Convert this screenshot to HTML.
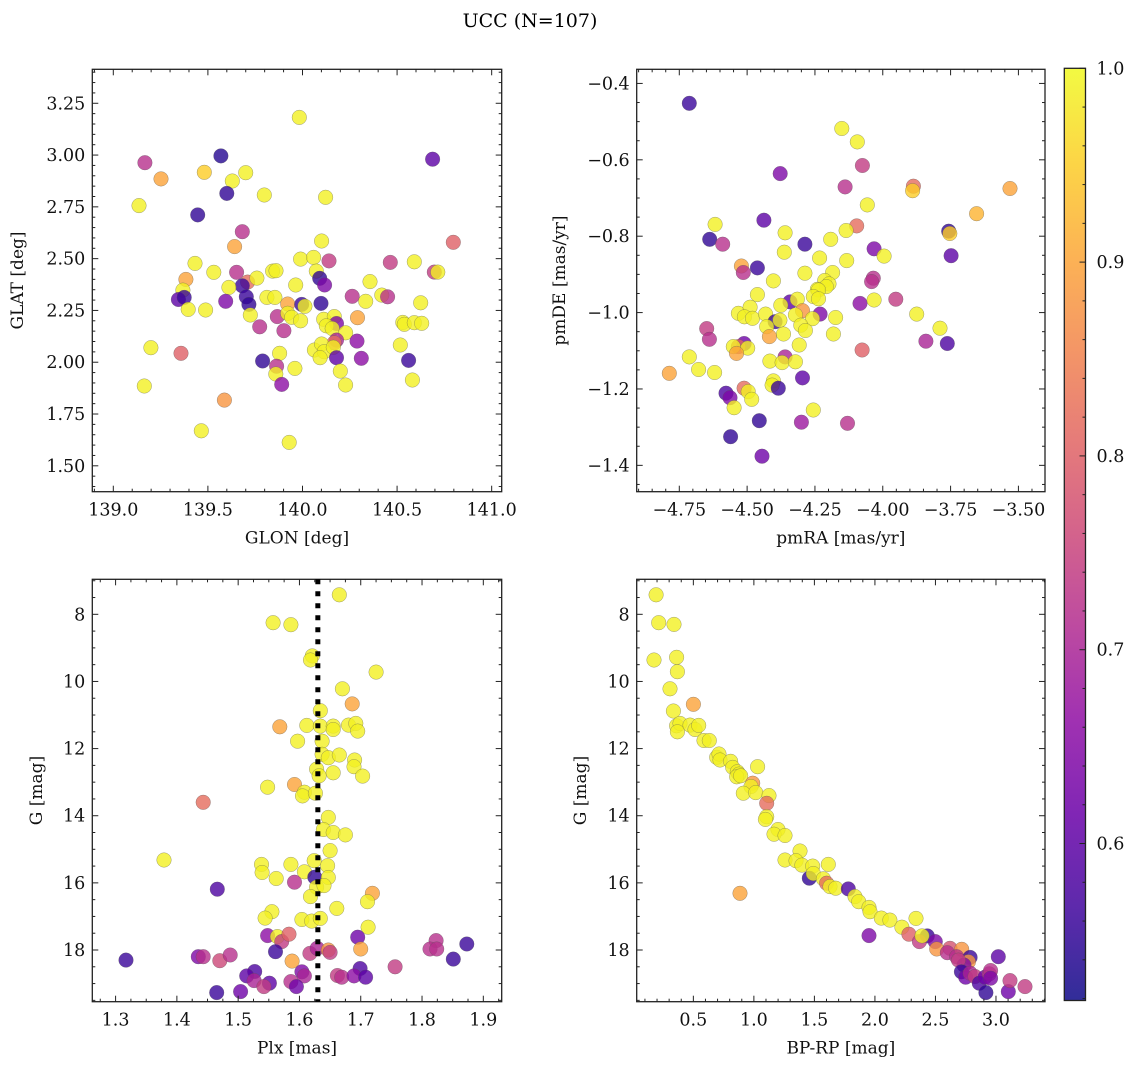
<!DOCTYPE html>
<html><head><meta charset="utf-8"><style>
body{margin:0;background:#fff;}
svg{display:block;font-family:"DejaVu Serif","Liberation Serif",serif;}
</style></head><body>
<svg id="fig" width="1136" height="1068" viewBox="0 0 1136 1068" xmlns="http://www.w3.org/2000/svg">
<text x="530" y="27" font-size="19" text-anchor="middle">UCC (N=107)</text>
</svg>
<script>
// ---- Panel 1: GLON vs GLAT ----
const glon=[139.983,139.167,139.252,139.569,139.481,139.629,139.7,139.6,139.136,139.446,139.798,140.122,140.688,139.682,139.641,140.101,140.797,139.99,140.059,140.14,140.464,140.591,139.432,139.531,139.652,139.842,139.86,140.073,140.697,140.715,139.384,139.71,139.759,139.682,139.964,140.091,140.117,140.357,139.368,139.611,139.344,139.375,139.703,139.717,139.594,139.812,139.854,139.922,139.996,140.013,140.098,140.263,140.334,140.419,140.45,140.625,139.396,139.488,139.724,139.867,139.922,139.943,139.99,140.112,140.168,140.18,140.291,140.126,140.157,140.228,140.18,140.168,140.288,140.53,140.538,140.591,140.63,139.774,139.902,140.517,139.199,139.358,139.879,140.063,140.101,140.115,140.093,140.163,140.18,140.311,139.789,140.561,139.863,139.859,139.96,139.89,140.2,140.228,140.581,139.164,139.587,139.465,139.93];
const glat=[3.182,2.963,2.885,2.996,2.917,2.875,2.915,2.815,2.756,2.711,2.807,2.796,2.98,2.63,2.558,2.585,2.579,2.498,2.506,2.489,2.482,2.485,2.477,2.434,2.434,2.44,2.442,2.44,2.435,2.435,2.4,2.387,2.406,2.369,2.373,2.405,2.373,2.389,2.348,2.361,2.303,2.313,2.316,2.279,2.294,2.313,2.313,2.281,2.279,2.27,2.284,2.318,2.294,2.324,2.316,2.287,2.255,2.252,2.228,2.22,2.236,2.217,2.2,2.207,2.22,2.187,2.215,2.176,2.163,2.142,2.107,2.094,2.102,2.192,2.183,2.191,2.188,2.171,2.152,2.083,2.07,2.043,2.043,2.059,2.088,2.051,2.022,2.072,2.022,2.019,2.006,2.009,1.981,1.943,1.97,1.893,1.957,1.89,1.914,1.885,1.817,1.669,1.613];
const c1=[0.99,0.72,0.9,0.54,0.95,0.99,0.99,0.55,0.99,0.55,0.99,0.99,0.6,0.72,0.9,0.99,0.8,0.99,0.99,0.74,0.74,0.99,0.99,0.99,0.72,0.99,0.99,0.99,0.74,0.99,0.9,0.82,0.99,0.56,0.99,0.55,0.64,0.99,0.99,0.99,0.6,0.56,0.56,0.55,0.64,0.99,0.99,0.9,0.56,0.99,0.55,0.72,0.99,0.99,0.72,0.99,0.99,0.99,0.99,0.72,0.99,0.99,0.99,0.99,0.99,0.64,0.9,0.99,0.99,0.99,0.7,0.82,0.66,0.99,0.99,0.99,0.99,0.72,0.72,0.99,0.99,0.8,0.99,0.99,0.99,0.99,0.99,0.99,0.6,0.66,0.55,0.56,0.72,0.99,0.99,0.66,0.99,0.99,0.99,0.99,0.88,0.99,0.99];
// ---- Panel 2: pmRA vs pmDE ----
const pmra=[-4.713,-4.151,-4.094,-4.075,-4.378,-4.139,-3.887,-3.89,-3.531,-4.057,-3.654,-4.618,-4.438,-4.096,-4.135,-3.757,-3.753,-4.638,-4.59,-4.36,-4.287,-4.192,-4.363,-4.032,-3.995,-3.748,-4.233,-4.133,-4.521,-4.514,-4.462,-4.287,-4.185,-4.403,-4.214,-4.198,-4.208,-4.035,-4.041,-4.241,-4.237,-4.462,-4.256,-4.237,-4.342,-4.315,-4.084,-4.032,-3.952,-4.376,-4.532,-4.489,-4.51,-4.48,-4.432,-4.397,-4.379,-4.428,-4.296,-4.322,-4.231,-4.259,-4.302,-4.285,-4.174,-4.366,-4.182,-3.875,-3.789,-4.649,-4.639,-4.418,-4.511,-4.532,-4.551,-4.498,-4.539,-4.308,-3.841,-3.762,-4.076,-4.713,-4.679,-4.62,-4.787,-4.416,-4.36,-4.371,-4.322,-4.296,-4.403,-4.408,-4.385,-4.578,-4.563,-4.511,-4.496,-4.483,-4.548,-4.256,-4.455,-4.3,-4.13,-4.561,-4.445];
const pmde=[-0.452,-0.518,-0.553,-0.615,-0.636,-0.671,-0.669,-0.681,-0.675,-0.718,-0.741,-0.769,-0.758,-0.773,-0.785,-0.787,-0.793,-0.808,-0.821,-0.791,-0.821,-0.808,-0.842,-0.833,-0.852,-0.851,-0.857,-0.864,-0.878,-0.895,-0.883,-0.897,-0.895,-0.917,-0.916,-0.925,-0.932,-0.91,-0.919,-0.939,-0.941,-0.953,-0.958,-0.964,-0.972,-0.965,-0.976,-0.967,-0.965,-0.981,-1.002,-0.986,-1.011,-1.015,-1.004,-1.024,-1.02,-1.037,-0.995,-1.006,-1.004,-1.016,-1.033,-1.047,-1.013,-1.056,-1.056,-1.004,-1.041,-1.042,-1.07,-1.063,-1.081,-1.089,-1.089,-1.093,-1.107,-1.085,-1.075,-1.081,-1.098,-1.116,-1.149,-1.157,-1.159,-1.127,-1.116,-1.131,-1.129,-1.171,-1.179,-1.19,-1.198,-1.211,-1.223,-1.198,-1.207,-1.227,-1.249,-1.255,-1.283,-1.287,-1.29,-1.325,-1.376];
const c2=[0.56,0.99,0.99,0.74,0.64,0.72,0.82,0.95,0.9,0.99,0.92,0.99,0.6,0.82,0.99,0.55,0.95,0.55,0.72,0.99,0.56,0.99,0.99,0.64,0.99,0.6,0.99,0.99,0.9,0.72,0.56,0.99,0.99,0.99,0.99,0.99,0.99,0.72,0.72,0.99,0.99,0.99,0.99,0.99,0.6,0.99,0.66,0.99,0.74,0.99,0.99,0.99,0.99,0.99,0.99,0.56,0.99,0.99,0.88,0.99,0.64,0.99,0.99,0.99,0.99,0.99,0.99,0.99,0.99,0.74,0.72,0.9,0.62,0.8,0.99,0.99,0.9,0.99,0.7,0.58,0.8,0.99,0.99,0.99,0.9,0.99,0.7,0.99,0.99,0.6,0.99,0.99,0.56,0.58,0.64,0.82,0.99,0.99,0.99,0.99,0.55,0.68,0.72,0.55,0.62];
// ---- Panel 3: Plx vs G ----
const plx=[1.665,1.557,1.586,1.621,1.618,1.725,1.67,1.686,1.634,1.568,1.612,1.634,1.655,1.655,1.68,1.692,1.695,1.597,1.637,1.637,1.647,1.665,1.69,1.689,1.628,1.632,1.655,1.703,1.548,1.592,1.608,1.605,1.626,1.443,1.647,1.639,1.655,1.675,1.65,1.379,1.538,1.586,1.624,1.646,1.539,1.608,1.562,1.625,1.647,1.592,1.466,1.628,1.64,1.719,1.618,1.711,1.555,1.661,1.544,1.604,1.62,1.634,1.712,1.548,1.564,1.571,1.583,1.695,1.823,1.813,1.824,1.873,1.561,1.617,1.629,1.647,1.65,1.7,1.317,1.435,1.443,1.47,1.487,1.588,1.851,1.756,1.527,1.514,1.526,1.551,1.542,1.604,1.608,1.586,1.595,1.699,1.662,1.669,1.689,1.708,1.465,1.504];
const g3=[7.42,8.25,8.31,9.24,9.36,9.72,10.22,10.67,10.87,11.35,11.31,11.33,11.33,11.43,11.3,11.25,11.48,11.78,11.78,12.17,12.27,12.19,12.34,12.54,12.61,12.81,12.72,12.82,13.15,13.07,13.3,13.41,13.33,13.6,14.05,14.41,14.5,14.57,15.04,15.32,15.45,15.45,15.34,15.49,15.69,15.67,15.87,15.83,15.84,15.98,16.19,16.13,16.08,16.31,16.41,16.56,16.86,16.76,17.05,17.09,17.14,17.06,17.32,17.57,17.6,17.75,17.53,17.62,17.72,17.97,17.97,17.82,18.05,18.1,17.95,18.0,18.07,17.97,18.3,18.2,18.2,18.32,18.15,18.33,18.27,18.5,18.64,18.77,18.91,18.99,19.09,18.65,18.77,18.94,19.09,18.55,18.76,18.81,18.77,18.81,19.27,19.24];
const c3=[0.99,0.99,0.99,0.99,0.99,0.99,0.99,0.9,0.99,0.9,0.99,0.99,0.99,0.99,0.99,0.99,0.99,0.99,0.99,0.99,0.99,0.99,0.99,0.99,0.99,0.99,0.99,0.99,0.99,0.9,0.99,0.99,0.99,0.82,0.99,0.99,0.99,0.99,0.99,0.99,0.99,0.99,0.99,0.99,0.99,0.99,0.99,0.55,0.99,0.72,0.58,0.99,0.99,0.9,0.99,0.99,0.99,0.99,0.99,0.99,0.99,0.99,0.99,0.66,0.99,0.74,0.8,0.62,0.72,0.72,0.72,0.56,0.56,0.74,0.7,0.88,0.74,0.9,0.56,0.64,0.72,0.76,0.72,0.9,0.56,0.74,0.58,0.6,0.7,0.6,0.74,0.64,0.7,0.72,0.62,0.58,0.74,0.72,0.66,0.6,0.56,0.62];
// ---- Panel 4: BP-RP vs G ----
const bprp=[0.192,0.214,0.34,0.175,0.362,0.368,0.307,0.5,0.335,0.362,0.39,0.368,0.472,0.514,0.544,0.588,0.632,0.693,0.712,0.72,0.808,0.825,0.863,0.877,0.858,0.891,1.031,0.99,0.976,0.913,1.015,1.125,1.106,1.106,1.095,1.199,1.166,1.257,1.381,1.257,1.348,1.397,1.615,1.486,1.458,1.491,1.574,1.601,1.629,1.676,1.78,1.835,1.866,0.885,1.951,1.959,2.053,2.124,2.339,2.223,1.951,2.281,2.433,2.367,2.389,2.499,2.51,2.62,2.598,2.717,2.675,2.786,2.772,2.736,2.69,3.019,2.714,2.75,2.786,2.827,2.862,2.909,2.945,2.956,2.917,3.102,3.116,3.24,2.956];
const g4=[7.42,8.25,8.3,9.36,9.28,9.71,10.22,10.68,10.88,11.32,11.25,11.5,11.3,11.43,11.31,11.76,11.76,12.26,12.16,12.34,12.38,12.56,12.69,12.76,12.84,12.81,12.54,13.03,13.13,13.33,13.31,13.4,13.63,14.03,14.11,14.41,14.55,14.59,15.05,15.32,15.34,15.47,15.45,15.5,15.86,15.72,15.88,16.01,16.11,16.16,16.18,16.41,16.56,16.31,16.73,16.86,17.05,17.11,17.06,17.32,17.57,17.53,17.58,17.75,17.58,17.75,17.97,17.95,18.08,17.98,18.2,18.22,18.35,18.45,18.3,18.2,18.65,18.81,18.69,18.79,18.99,18.81,18.71,18.61,19.27,19.24,18.91,19.09,18.84];
const c4=[0.99,0.99,0.99,0.99,0.99,0.99,0.99,0.9,0.99,0.99,0.99,0.99,0.99,0.99,0.99,0.99,0.99,0.99,0.99,0.99,0.99,0.99,0.99,0.99,0.99,0.99,0.99,0.88,0.99,0.99,0.99,0.99,0.82,0.99,0.99,0.99,0.99,0.99,0.99,0.99,0.99,0.99,0.99,0.99,0.55,0.99,0.99,0.82,0.99,0.99,0.58,0.99,0.99,0.9,0.99,0.99,0.99,0.99,0.99,0.99,0.64,0.8,0.56,0.74,0.99,0.64,0.88,0.78,0.72,0.88,0.72,0.56,0.88,0.64,0.74,0.6,0.56,0.62,0.7,0.74,0.58,0.62,0.72,0.72,0.55,0.62,0.74,0.74,0.64];
const cbTicks=[0.6,0.7,0.8,0.9,1.0];
const plxLine=1.63;

const NS='http://www.w3.org/2000/svg';
const svg=document.getElementById('fig');
function mk(tag,attrs,parent){const e=document.createElementNS(NS,tag);for(const k in attrs)e.setAttribute(k,attrs[k]);(parent||svg).appendChild(e);return e;}
const VMIN=0.519,VMAX=1.0;
const plasma=[[13,8,135],[65,4,157],[106,0,168],[143,13,164],[177,42,144],[204,71,120],[225,100,98],[242,132,75],[252,166,54],[252,206,37],[240,249,33]];
function cmap(v){let t=(v-VMIN)/(VMAX-VMIN);t=Math.max(0,Math.min(1,t))*10;const i=Math.min(9,Math.floor(t)),f=t-i;const a=plasma[i],b=plasma[i+1];return 'rgb('+a.map((x,k)=>Math.round(x+(b[k]-x)*f)).join(',')+')';}
function fmt(v,d){let s=v.toFixed(d);if(v<0)s='\u2212'+s.slice(1);return s;}
const TF=17.5;

function panel(o){
  const g=mk('g',{});
  
  
  const X=v=>o.L+(v-o.x0)/(o.x1-o.x0)*(o.R-o.L);
  const Y=o.inv?(v=>o.T+(v-o.y0)/(o.y1-o.y0)*(o.B-o.T)):(v=>o.B-(v-o.y0)/(o.y1-o.y0)*(o.B-o.T));
  const pts=mk('g',{},g);
  
  
  for(let i=0;i<o.xs.length;i++){
    const c=mk('circle',{cx:X(o.xs[i]).toFixed(1),cy:Y(o.ys[i]).toFixed(1),r:7.3,fill:cmap(o.cs[i]),'fill-opacity':0.8,stroke:'#555','stroke-width':0.4,'stroke-opacity':0.7},pts);
    
    
  }
  if(o.vline!==undefined){
    const l=mk('line',{x1:X(o.vline),x2:X(o.vline),y1:o.T,y2:o.B,stroke:'#000','stroke-width':5,'stroke-dasharray':'5 7'},g);
    
    
  }
  const fr=mk('rect',{x:o.L,y:o.T,width:o.R-o.L,height:o.B-o.T,fill:'none',stroke:'#222','stroke-width':1.3},g);
  
  
  const tk=mk('g',{stroke:'#222','stroke-width':1},g);
  const lo=Math.min(o.x0,o.x1),hi=Math.max(o.x0,o.x1);
  for(let v=Math.ceil(lo/o.xmin-1e-6)*o.xmin;v<=hi+1e-9;v+=o.xmin){
    const maj=Math.abs(v/o.xmaj-Math.round(v/o.xmaj))<1e-4;const len=maj?6:3;const x=X(v);
    mk('line',{x1:x,x2:x,y1:o.B,y2:o.B-len},tk);mk('line',{x1:x,x2:x,y1:o.T,y2:o.T+len},tk);
    if(maj){const t=mk('text',{x:x,y:o.B+24,'font-size':TF,'text-anchor':'middle',stroke:'none',fill:'#111'},g);t.textContent=fmt(v,o.xd);
      }
  }
  const ylo=Math.min(o.y0,o.y1),yhi=Math.max(o.y0,o.y1);
  for(let v=Math.ceil(ylo/o.ymin-1e-6)*o.ymin;v<=yhi+1e-9;v+=o.ymin){
    const maj=Math.abs(v/o.ymaj-Math.round(v/o.ymaj))<1e-4;const len=maj?6:3;const y=Y(v);
    mk('line',{x1:o.L,x2:o.L+len,y1:y,y2:y},tk);mk('line',{x1:o.R,x2:o.R-len,y1:y,y2:y},tk);
    if(maj){const t=mk('text',{x:o.L-7,y:y+6,'font-size':TF,'text-anchor':'end',stroke:'none',fill:'#111'},g);t.textContent=fmt(v,o.yd);
      }
  }
  const xl=mk('text',{x:(o.L+o.R)/2,y:o.B+52,'font-size':17,'text-anchor':'middle',fill:'#111'},g);xl.textContent=o.xlabel;
  
  const yl=mk('text',{x:0,y:0,'font-size':17,'text-anchor':'middle',fill:'#111',transform:'translate('+o.ylx+','+(o.T+o.B)/2+') rotate(-90)'},g);yl.textContent=o.ylabel;
  
}
panel({name:'glon-glat-panel',L:92.3,R:501.7,T:69.3,B:491.7,x0:138.889,x1:141.053,y0:1.375,y1:3.414,xs:glon,ys:glat,cs:c1,xmaj:0.5,xmin:0.1,xd:1,ymaj:0.25,ymin:0.05,yd:2,xlabel:'GLON [deg]',ylabel:'GLAT [deg]',ylx:23});
panel({name:'pm-panel',L:636.7,R:1045,T:69.3,B:491.7,x0:-4.907,x1:-3.402,y0:-1.469,y1:-0.363,xs:pmra,ys:pmde,cs:c2,xmaj:0.25,xmin:0.05,xd:2,ymaj:0.2,ymin:0.05,yd:1,xlabel:'pmRA [mas/yr]',ylabel:'pmDE [mas/yr]',ylx:565});
panel({name:'plx-g-panel',L:92.3,R:501.7,T:579.3,B:1001.7,x0:1.262,x1:1.93,y0:6.957,y1:19.54,inv:true,xs:plx,ys:g3,cs:c3,xmaj:0.1,xmin:0.025,xd:1,ymaj:2,ymin:0.5,yd:0,xlabel:'Plx [mas]',ylabel:'G [mag]',ylx:42});
panel({name:'cmd-panel',L:636.7,R:1045,T:579.3,B:1001.7,x0:0.032,x1:3.405,y0:6.957,y1:19.54,inv:true,xs:bprp,ys:g4,cs:c4,xmaj:0.5,xmin:0.1,xd:1,ymaj:2,ymin:0.5,yd:0,xlabel:'BP-RP [mag]',ylabel:'G [mag]',ylx:586});
// dotted mean line drawn via plx panel axis
(function(){const L=92.3,R=501.7,x=L+(plxLine-1.262)/(1.93-1.262)*(R-L);
const l=mk('line',{x1:x,x2:x,y1:579.3,y2:1001.7,stroke:'#000','stroke-width':5,'stroke-dasharray':'5 7'});

})();

const cb=mk('g',{});


const CL=1064.3,CR=1085.5,CT=68.3,CB=1000.5;
const defs=mk('defs',{},cb);
const grad=mk('linearGradient',{id:'pg',x1:0,y1:1,x2:0,y2:0},defs);
for(let i=0;i<=10;i++)mk('stop',{offset:(i*10)+'%','stop-color':'rgb('+plasma[i].join(',')+')','stop-opacity':0.85},grad);
mk('rect',{x:CL,y:CT,width:CR-CL,height:CB-CT,fill:'url(#pg)',stroke:'#222','stroke-width':1.3},cb);
const CY=v=>CB-(v-VMIN)/(VMAX-VMIN)*(CB-CT);
for(let v=0.52;v<=1.0001;v+=0.02){const y=CY(v);const maj=Math.abs(v*10-Math.round(v*10))<1e-4;mk('line',{x1:CR,x2:CR-(maj?6:3),y1:y,y2:y,stroke:'#222','stroke-width':1},cb);}
for(const v of cbTicks){const t=mk('text',{x:CR+11,y:CY(v)+6,'font-size':TF,fill:'#111'},cb);t.textContent=v.toFixed(1);
  }
</script>
</body></html>
